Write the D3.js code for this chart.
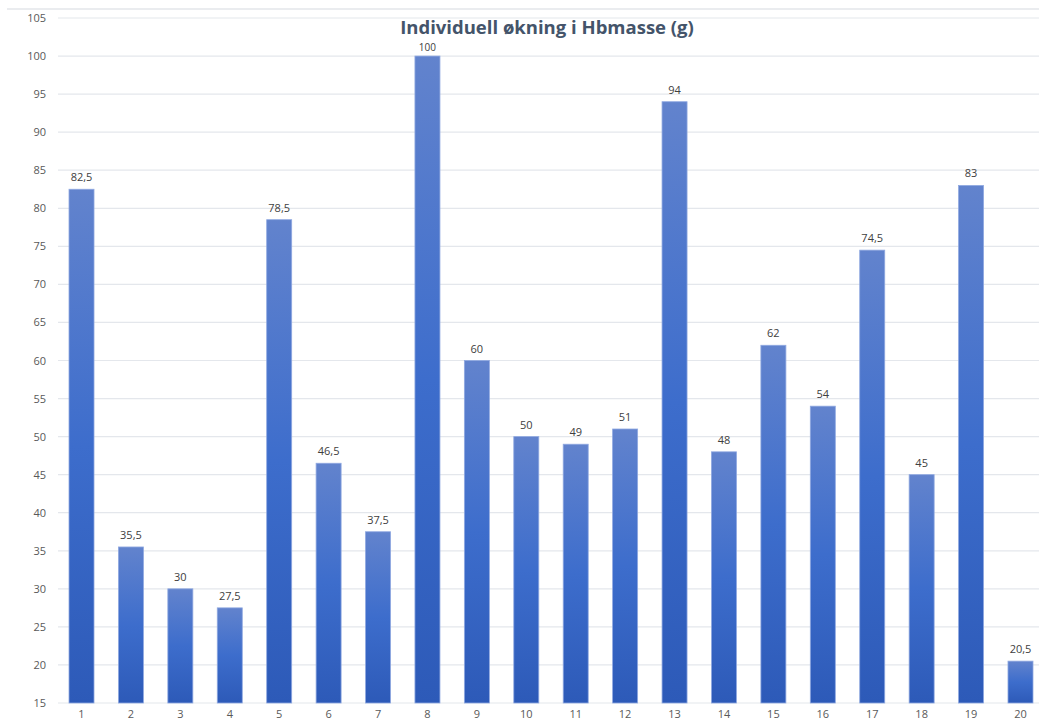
<!DOCTYPE html>
<html>
<head>
<meta charset="utf-8">
<script src="https://cdn.jsdelivr.net/npm/d3@7"></script>
<style>
  html, body { margin: 0; padding: 0; background: #fff; }
  svg { display: block; }
</style>
</head>
<body>
<svg id="chart" width="1039" height="722"></svg>
<script>
// Individual increase in haemoglobin mass per subject
const subjects = ["1","2","3","4","5","6","7","8","9","10","11","12","13","14","15","16","17","18","19","20"];
const increase = [82.5, 35.5, 30, 27.5, 78.5, 46.5, 37.5, 100, 60, 50, 49, 51, 94, 48, 62, 54, 74.5, 45, 83, 20.5];
const yTicks = [15, 20, 25, 30, 35, 40, 45, 50, 55, 60, 65, 70, 75, 80, 85, 90, 95, 100, 105];
const title = "Individuell økning i Hbmasse (g)";

const svg = d3.select("#chart");
const W = 1039, H = 722;
const font = "'Open Sans', 'Liberation Sans', sans-serif";

const x = d3.scaleBand().domain(subjects).range([56.8, 1045.2]).paddingInner(0.494).paddingOuter(0.247);
const y = d3.scaleLinear().domain([15, 105]).range([703, 18]);

const defs = svg.append("defs");
const grad = defs.append("linearGradient").attr("id", "barFill")
  .attr("x1", 0).attr("y1", 0).attr("x2", 0).attr("y2", 1);
grad.append("stop").attr("offset", "0%").attr("stop-color", "#6283cd");
grad.append("stop").attr("offset", "50%").attr("stop-color", "#3d6dcc");
grad.append("stop").attr("offset", "100%").attr("stop-color", "#2d5ab8");

// thin frame line along the top
svg.append("line").attr("x1", 7).attr("x2", W).attr("y1", 9).attr("y2", 9)
  .attr("stroke", "#e3e6ea").attr("stroke-width", 1.5);

// gridlines
svg.append("g").selectAll("line").data(yTicks).join("line")
  .attr("x1", 58).attr("x2", W)
  .attr("y1", d => y(d)).attr("y2", d => y(d))
  .attr("stroke", "#e4e7ec").attr("stroke-width", 1.2);

// y-axis labels
svg.append("g").attr("transform", "translate(46,0)")
  .call(d3.axisLeft(y).tickValues(yTicks).tickSize(0).tickPadding(0))
  .call(g => g.select(".domain").remove())
  .call(g => g.selectAll("text").attr("font-family", font).attr("font-size", 11).attr("fill", "#595959"));

// x-axis labels
svg.append("g").attr("transform", "translate(0,707)")
  .call(d3.axisBottom(x).tickSize(0).tickPadding(3))
  .call(g => g.select(".domain").remove())
  .call(g => g.selectAll("text").attr("font-family", font).attr("font-size", 11).attr("fill", "#595959"));

// bars
svg.append("g").selectAll("rect").data(subjects).join("rect")
  .attr("x", d => x(d))
  .attr("width", x.bandwidth())
  .attr("y", (d, i) => y(increase[i]))
  .attr("height", (d, i) => y(15) - y(increase[i]))
  .attr("fill", "url(#barFill)")
  .attr("stroke", "#8fa8e0").attr("stroke-width", 0.8);

// value labels
const fmt = v => String(v).replace(".", ",");
svg.append("g").selectAll("text").data(subjects).join("text")
  .attr("x", d => x(d) + x.bandwidth() / 2)
  .attr("y", (d, i) => y(increase[i]) - (increase[i] >= 100 ? 5 : 8))
  .attr("text-anchor", "middle")
  .attr("font-family", font).attr("font-size", (d, i) => increase[i] >= 100 ? 10 : 11)
  .attr("fill", "#404040")
  .text((d, i) => fmt(increase[i]));

// title
svg.append("text").attr("x", 547).attr("y", 34)
  .attr("text-anchor", "middle")
  .attr("font-family", font).attr("font-weight", "bold").attr("font-size", 18.5)
  .attr("fill", "#44546a")
  .text(title);
</script>
</body>
</html>
